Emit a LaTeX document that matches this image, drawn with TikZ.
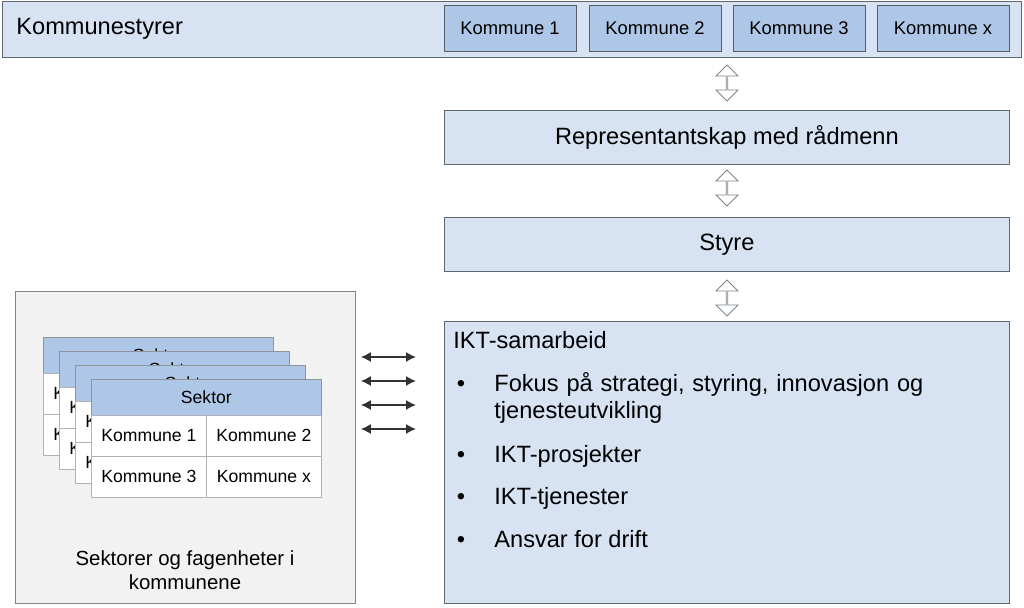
\documentclass[tikz,border=0pt]{standalone}
\usepackage{fontspec}
\setmainfont{Liberation Sans}
\usetikzlibrary{shapes.arrows, arrows.meta, positioning}
\definecolor{lysblaa}{HTML}{D7E3F3}
\definecolor{mblaa}{HTML}{AFC7E7}
\definecolor{ramme}{HTML}{5E6870}
\definecolor{lysgraa}{HTML}{F2F2F2}
\tikzset{
  x=0.5pt, y=-0.5pt,
  boks/.style={draw=ramme, fill=lysblaa, inner sep=0pt, anchor=north west},
  kboks/.style={draw=ramme!90!black, fill=mblaa, inner sep=0pt, minimum width=66pt, minimum height=23pt, font=\fontsize{9.2}{11}\selectfont},
  dobbelpil/.style={shape=double arrow, draw=ramme!80, fill=white, rotate=90, inner sep=0pt,
    minimum height=18pt, minimum width=11pt, double arrow head extend=3pt},
  hode/.style={draw=ramme!70, fill=mblaa, inner sep=0pt, minimum width=115pt, minimum height=18pt, anchor=north west, font=\fontsize{8.8}{10}\selectfont},
  celle/.style={draw=ramme!50, fill=white, inner sep=0pt, minimum width=57.5pt, minimum height=20.5pt, anchor=north west, font=\fontsize{8.8}{10}\selectfont},
  tekst/.style={font=\fontsize{11.8}{14}\selectfont, inner sep=0pt},
  sidepil/.style={{Latex[length=5pt,width=5pt]}-{Latex[length=5pt,width=5pt]}, line width=0.7pt, black!80},
}
\begin{document}
\begin{tikzpicture}
  \useasboundingbox (0,0) rectangle (1024,608);
  % kommunestyrer
  \node[boks, minimum width=509.5pt, minimum height=28pt] (styrer) at (2,1) {};
  \node[tekst, anchor=west] (styrertekst) at (16,29) {Kommunestyrer};
  \foreach \i/\x/\navn in {1/510/Kommune 1, 2/655/Kommune 2, 3/799/Kommune 3, x/943/Kommune x}
    \node[kboks] (k\i) at (\x,28) {\navn};

  % styringslinje
  \node[boks, minimum width=282.5pt, minimum height=27pt] (repr) at (444,110) {};
  \node[tekst] (reprtekst) at (repr.center) {Representantskap med rådmenn};
  \node[boks, minimum width=282.5pt, minimum height=27pt] (styre) at (444,217) {};
  \node[tekst] (styretekst) at (styre.center) {Styre};
  \node[boks, minimum width=282.5pt, minimum height=141pt] (ikt) at (444,321) {};

  \node[dobbelpil] (p1) at (727,83) {};
  \node[dobbelpil] (p2) at (727,188) {};
  \node[dobbelpil] (p3) at (727,298) {};

  % innhold IKT-samarbeid
  \node[tekst, anchor=base west] (ikttittel) at (453,349) {IKT-samarbeid};
  \node[tekst, anchor=base west, align=left, text width=250pt] (punkt1) at (494,392)
    {Fokus på strategi, styring, innovasjon og\\[-0.7pt] tjenesteutvikling};
  \node[tekst, anchor=base west] (punkt2) at (494,463) {IKT-prosjekter};
  \node[tekst, anchor=base west] (punkt3) at (494,505) {IKT-tjenester};
  \node[tekst, anchor=base west] (punkt4) at (494,548) {Ansvar for drift};
  \foreach \y [count=\n] in {392,463,505,548}
    \node[tekst, anchor=base] (kule\n) at (461,\y) {•};

  % sektorer
  \node[draw=ramme!80, fill=lysgraa, minimum width=170pt, minimum height=156pt, inner sep=0pt, anchor=north west] (sektorer) at (15,291) {};
  \foreach \n/\x/\y in {1/43/337, 2/59/351, 3/75/365, 4/91/379} {
    \node[hode] (h\n) at (\x,\y) {Sektor};
    \node[celle] (c\n a) at (\x,\y+36) {Kommune 1};
    \node[celle] (c\n b) at (\x+115,\y+36) {Kommune 2};
    \node[celle] (c\n c) at (\x,\y+77) {Kommune 3};
    \node[celle] (c\n d) at (\x+115,\y+77) {Kommune x};
  }
  \node[font=\fontsize{10.2}{12}\selectfont, align=center, inner sep=0pt] (sektortekst) at (185,570)
    {Sektorer og fagenheter i\\kommunene};

  % piler mellom sektorer og IKT-samarbeid
  \foreach \y [count=\n] in {357,381,405,429} {
    \coordinate (v\n) at (sektorer.east |- 0,\y);
    \coordinate (hp\n) at (ikt.west |- 0,\y);
    \draw[sidepil] ([xshift=2.5pt]v\n) -- ([xshift=-14pt]hp\n);
  }
\end{tikzpicture}
\end{document}
